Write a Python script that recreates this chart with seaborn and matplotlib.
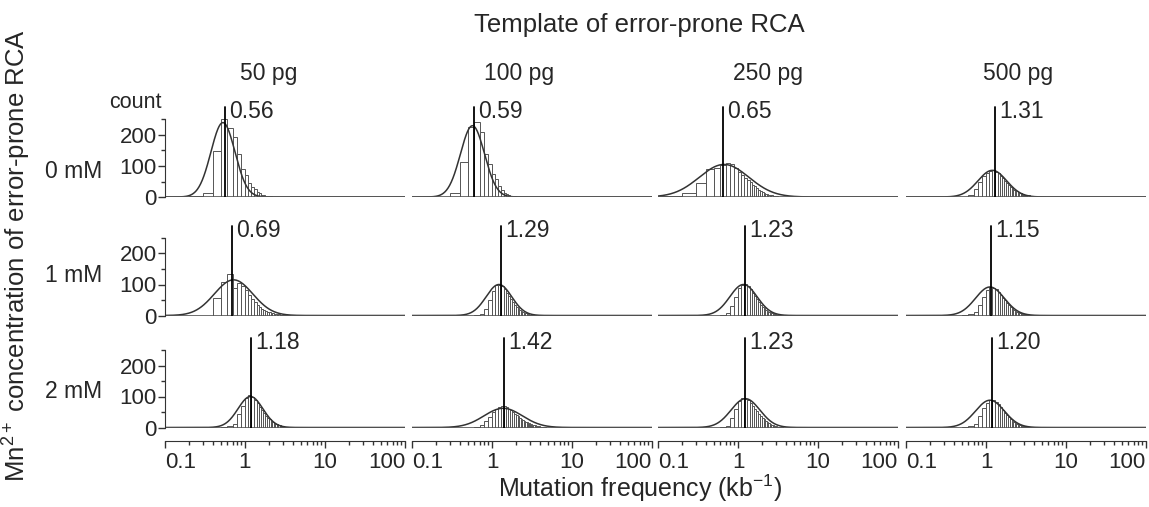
import numpy as np
import pandas as pd
import matplotlib
matplotlib.use("Agg")
import matplotlib.pyplot as plt
import seaborn as sns
from matplotlib.ticker import FixedLocator, NullFormatter

# --- data (bins of 0.1 kb^-1, first bin = 0.1-0.2) ---
templates = ["50 pg", "100 pg", "250 pg", "500 pg"]
mn_conc = ["0 mM", "1 mM", "2 mM"]

# medians printed next to the vertical lines
medians = [[0.56, 0.59, 0.65, 1.31],
           [0.69, 1.29, 1.23, 1.15],
           [1.18, 1.42, 1.23, 1.20]]

# counts per bin, row = Mn2+ conc., col = template amount
c_0_50 = [0, 2, 14, 148, 253, 224, 195, 138, 89, 70, 44, 33, 25, 17, 12, 8, 6, 4, 3, 2, 2, 1]
c_0_100 = [0, 1, 12, 113, 227, 243, 210, 138, 105, 73, 57, 35, 21, 14, 9, 6, 4, 3, 2, 1]
c_0_250 = [3, 14, 44, 89, 95, 102, 110, 105, 95, 82, 72, 62, 55, 47, 40, 34, 28, 23, 19, 16,
           13, 11, 9, 7, 6, 5, 4, 3, 3, 2, 2, 1]
c_0_500 = [0, 0, 0, 0, 1, 6, 25, 50, 68, 78, 85, 86, 82, 76, 68, 60, 52, 45, 39, 33,
           28, 24, 21, 18, 16, 14, 12, 10, 9, 8, 7, 6, 5, 5, 4, 4, 3, 3, 3, 2, 2, 2, 2, 1, 1, 1, 1]
c_1_50 = [0, 0, 0, 58, 109, 134, 88, 104, 95, 82, 65, 52, 42, 34, 27, 22, 18, 15, 12, 10,
          8, 7, 6, 5, 4, 4, 3, 3, 2, 2, 2, 1, 1, 1, 1]
c_1_100 = [0, 0, 0, 0, 0, 2, 5, 20, 50, 80, 98, 100, 95, 85, 74, 62, 52, 43, 35, 28,
           23, 18, 14, 11, 9, 7, 5, 4, 3, 3, 2, 2, 1, 1]
c_1_250 = [0, 0, 0, 0, 0, 3, 8, 30, 60, 88, 100, 102, 95, 85, 73, 62, 52, 43, 35, 29,
           24, 19, 15, 12, 10, 8, 6, 5, 4, 3, 3, 2, 2, 1, 1]
c_1_500 = [0, 0, 0, 0, 1, 4, 12, 35, 60, 82, 92, 90, 85, 76, 67, 58, 49, 41, 34, 28,
           23, 19, 15, 12, 10, 8, 7, 6, 5, 4, 3, 3, 2, 2, 2, 1, 1, 1]
c_2_50 = [0, 0, 0, 0, 1, 4, 12, 45, 70, 95, 105, 100, 90, 78, 66, 55, 46, 38, 31, 26,
          21, 17, 14, 12, 10, 8, 7, 6, 5, 4, 3, 3, 2, 2, 2, 1, 1, 1]
c_2_100 = [0, 0, 0, 0, 0, 3, 8, 20, 35, 50, 60, 66, 70, 68, 65, 60, 55, 50, 45, 40,
           36, 32, 28, 25, 22, 19, 17, 15, 13, 11, 10, 9, 8, 7, 6, 5, 5, 4, 4, 3, 3, 2, 2, 2, 1, 1]
c_2_250 = [0, 0, 0, 0, 0, 2, 6, 30, 60, 85, 95, 92, 88, 80, 70, 61, 52, 44, 37, 31,
           26, 21, 17, 14, 11, 9, 7, 6, 5, 4, 3, 3, 2, 2, 1, 1]
c_2_500 = [0, 0, 0, 0, 1, 4, 12, 38, 62, 80, 88, 88, 83, 75, 66, 57, 48, 40, 33, 27,
           22, 18, 15, 12, 10, 8, 6, 5, 4, 4, 3, 3, 2, 2, 1, 1]

counts = [[c_0_50, c_0_100, c_0_250, c_0_500],
          [c_1_50, c_1_100, c_1_250, c_1_500],
          [c_2_50, c_2_100, c_2_250, c_2_500]]

# log-normal fit curves drawn over the bars: peak position, sd (log10), peak height
fit_center = [[0.53, 0.57, 0.67, 1.20],
              [0.72, 1.22, 1.17, 1.12],
              [1.17, 1.38, 1.24, 1.12]]
fit_sd = [[0.15, 0.15, 0.31, 0.18],
          [0.24, 0.16, 0.17, 0.18],
          [0.155, 0.24, 0.18, 0.18]]
fit_peak = [[240, 230, 105, 86],
            [115, 100, 100, 92],
            [100, 62, 93, 88]]

# --- style ---
sns.set_style("white")
plt.rcParams["font.family"] = ["Liberation Sans", "DejaVu Sans"]
plt.rcParams["mathtext.fontset"] = "custom"
plt.rcParams["mathtext.rm"] = "Liberation Sans"
plt.rcParams["mathtext.it"] = "Liberation Sans:italic"

W, H = 1149, 507
fig = plt.figure(figsize=(W / 100, H / 100), dpi=100)

col_left = [165, 412, 658, 906]
col_w = 240
title_x = [269, 519, 768, 1018]
row_zero = [197, 315.5, 427.5]
ymax = 300
ax_h = ymax * 0.31

edge_col = "#555555"
for r in range(3):
    for c in range(4):
        ax = fig.add_axes([col_left[c] / W, 1 - row_zero[r] / H, col_w / W, ax_h / H])
        cnt = np.array(counts[r][c], dtype=float)
        edges = 0.1 + 0.1 * np.arange(len(cnt) + 1)
        df = pd.DataFrame({"freq": edges[:-1] + 0.05, "n": cnt})
        # bins given in log10 units because the axis is log scaled
        sns.histplot(data=df, x="freq", weights="n", bins=list(np.log10(edges)), log_scale=True,
                     stat="count", color="white", alpha=1, edgecolor=edge_col,
                     linewidth=0.7, ax=ax)

        # fitted curve
        xs = np.logspace(-1, 2, 600)
        ys = fit_peak[r][c] * np.exp(-0.5 * ((np.log10(xs) - np.log10(fit_center[r][c])) / fit_sd[r][c]) ** 2)
        sns.lineplot(x=xs, y=ys, ax=ax, color="#333333", linewidth=1.1)

        ax.axhline(0, color=edge_col, linewidth=1.2)
        med = medians[r][c]
        ax.plot([med, med], [0, 290], color="black", linewidth=1.3)
        ax.annotate(f"{med:.2f}", xy=(med, 275), xytext=(3, 0), textcoords="offset points",
                    va="center", ha="left", fontsize=16.5)

        ax.set_xlim(0.1, 100)
        ax.set_ylim(0, ymax)
        ax.set_xlabel("")
        ax.set_ylabel("")
        for s in ["top", "right", "left", "bottom"]:
            ax.spines[s].set_visible(False)

        if c == 0:
            ax.spines["left"].set_visible(True)
            ax.spines["left"].set_color("#333333")
            ax.spines["left"].set_bounds(0, 250)
            ax.set_yticks([0, 100, 200])
            ax.yaxis.set_minor_locator(FixedLocator([50, 150, 250]))
            ax.tick_params(axis="y", which="major", left=True, length=5, width=1,
                           color="#333333", labelsize=16, pad=1)
            ax.tick_params(axis="y", which="minor", left=True, length=3, width=1, color="#333333")
        else:
            ax.set_yticks([])

        if r == 2:
            ax.spines["bottom"].set_visible(True)
            ax.spines["bottom"].set_position(("outward", 10))
            ax.spines["bottom"].set_color("#333333")
            ax.set_xticks([0.1, 1, 10, 100])
            ax.set_xticklabels(["0.1", "1", "10", "100"])
            ax.xaxis.set_minor_locator(FixedLocator(
                [m * d for d in (0.1, 1, 10) for m in range(2, 10)]))
            ax.xaxis.set_minor_formatter(NullFormatter())
            ax.tick_params(axis="x", which="major", bottom=True, length=5, width=1,
                           color="#333333", labelsize=16, pad=3)
            ax.tick_params(axis="x", which="minor", bottom=True, length=3, width=1, color="#333333")
            labs = ax.get_xticklabels()
            labs[0].set_ha("left")
            labs[-1].set_ha("right")
        else:
            ax.set_xticks([])
            ax.xaxis.set_minor_locator(FixedLocator([]))

# --- texts ---
fig.text(639 / W, 1 - 25 / H, "Template of error-prone RCA", ha="center", va="center", fontsize=18.5)
for c, name in enumerate(templates):
    fig.text(title_x[c] / W, 1 - 73 / H, name, ha="center", va="center", fontsize=16.5)
row_y = [172, 276, 392]
for r, name in enumerate(mn_conc):
    fig.text(74 / W, 1 - row_y[r] / H, name, ha="center", va="center", fontsize=16.5)
fig.text(162 / W, 1 - 102 / H, "count", ha="right", va="center", fontsize=15.5)
fig.text(17 / W, 1 - 255 / H, "Mn$^{2+}$ concentration of error-prone RCA", rotation=90,
         ha="center", va="center", fontsize=18.5)
fig.text(640 / W, 3 / H, "Mutation frequency (kb$^{-1}$)", ha="center", va="bottom", fontsize=18)

fig.savefig("out.png", dpi=100)
